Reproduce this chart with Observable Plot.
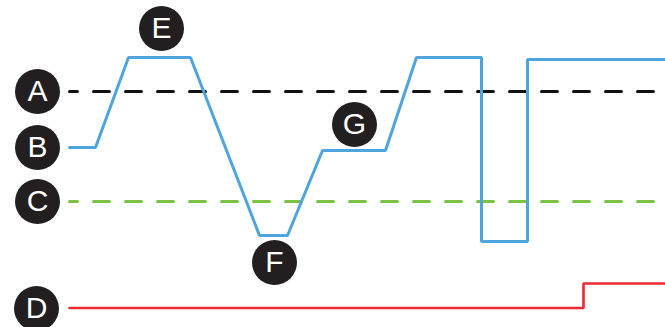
<!DOCTYPE html>
<html>
<head>
<meta charset="utf-8">
<script src="https://cdn.jsdelivr.net/npm/d3@7"></script>
<script src="https://cdn.jsdelivr.net/npm/@observablehq/plot@0.6"></script>
<style>
  html, body { margin: 0; padding: 0; background: #fff; }
  #chart svg { display: block; }
</style>
</head>
<body>
<div id="chart"></div>
<script>
// Blue signal path (time, level)
const blueT = [69, 95, 128, 190, 259, 287, 322, 385, 416, 481, 481, 527, 527, 665];
const blueV = [180, 180, 270, 270, 92, 92, 177, 177, 270, 270, 86, 86, 268, 268];

// Reference thresholds
const levelA = 236;   // black dashed
const levelC = 126;   // green dashed
const refStart = 69;
const refEnd = 654;

// Red signal (step)
const redT = [69, 583, 583, 665];
const redV = [19.5, 19.5, 44, 44];

// Labels
const labelText = ["A", "B", "C", "D", "E", "F", "G"];
const labelT = [37, 37, 37, 36, 161, 274, 354];
const labelV = [236, 180, 126, 19, 299, 65, 203];

const blue = blueT.map((t, i) => ({t, v: blueV[i]}));
const red = redT.map((t, i) => ({t, v: redV[i]}));
const lineA = [{t: refStart, v: levelA}, {t: refEnd, v: levelA}];
const lineC = [{t: refStart, v: levelC}, {t: refEnd, v: levelC}];
const labels = labelText.map((s, i) => ({s, t: labelT[i], v: labelV[i]}));

const chart = Plot.plot({
  width: 665,
  height: 327,
  margin: 0,
  x: {domain: [0, 665], axis: null},
  y: {domain: [0, 327], axis: null},
  style: {background: "#fff"},
  marks: [
    Plot.line(lineA, {x: "t", y: "v", stroke: "#111", strokeWidth: 3, strokeDasharray: "16,16", strokeDashoffset: 8}),
    Plot.line(lineC, {x: "t", y: "v", stroke: "#7cc243", strokeWidth: 3, strokeDasharray: "16,16", strokeDashoffset: 8}),
    Plot.line(red, {x: "t", y: "v", stroke: "#ec2a31", strokeWidth: 2.6, strokeLinejoin: "miter"}),
    Plot.line(blue, {x: "t", y: "v", stroke: "#4ea4dd", strokeWidth: 3, strokeLinejoin: "miter"}),
    Plot.dot(labels, {x: "t", y: "v", r: 22.5, fill: "#231f20", stroke: "none"}),
    Plot.text(labels, {x: "t", y: "v", text: "s", fill: "#fff", fontSize: 30, fontFamily: "Liberation Sans, Arial, sans-serif"})
  ]
});
document.getElementById("chart").appendChild(chart);
</script>
</body>
</html>
